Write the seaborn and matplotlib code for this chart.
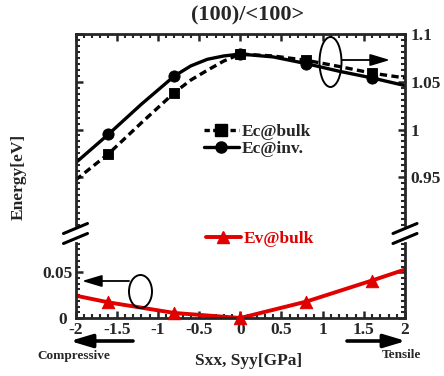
import numpy as np
import pandas as pd
import matplotlib
matplotlib.use("Agg")
import matplotlib.pyplot as plt
from matplotlib.ticker import MultipleLocator, AutoMinorLocator, FuncFormatter
from matplotlib.patches import Ellipse, FancyArrowPatch
from matplotlib.lines import Line2D
from matplotlib.transforms import ScaledTranslation
import seaborn as sns

# ---------------- data ----------------
stress_line = [-2.0, -1.6, -1.2, -0.8, -0.6, -0.4, -0.2, 0.0, 0.4, 0.8, 1.2, 1.6, 2.0]
ec_inv_line = [0.965, 0.995, 1.0265, 1.056, 1.0666, 1.0735, 1.077, 1.079, 1.076, 1.069, 1.061, 1.054, 1.046]
ec_bulk_line = [0.947, 0.9745, 1.007, 1.0386, 1.0518, 1.062, 1.0717, 1.079, 1.077, 1.0725, 1.066, 1.059, 1.054]

stress_marks = [-1.6, -0.8, 0.0, 0.8, 1.6]
ec_inv_marks = [0.995, 1.056, 1.079, 1.069, 1.054]
ec_bulk_marks = [0.9745, 1.0386, 1.079, 1.0725, 1.059]

stress_ev = [-2.0, -1.6, -0.8, 0.0, 0.8, 1.6, 2.0]
ev_bulk = [0.0245, 0.0171, 0.0055, 0.0, 0.0179, 0.041, 0.053]
stress_ev_marks = [-1.6, -0.8, 0.0, 0.8, 1.6]
ev_bulk_marks = [0.0171, 0.0055, 0.0, 0.0179, 0.041]

x_ticks = [-2, -1.5, -1, -0.5, 0, 0.5, 1, 1.5, 2]
top_yticks = [0.95, 1.0, 1.05, 1.1]
bot_yticks = [0, 0.05]

title = "(100)/<100>"
xlabel = "Sxx, Syy[GPa]"
ylabel = "Energy[eV]"
labels = ["Ec@bulk", "Ec@inv.", "Ev@bulk"]

# ---------------- style ----------------
sns.set_style("ticks")
plt.rcParams["font.family"] = ["Liberation Serif", "DejaVu Serif"]
plt.rcParams["font.weight"] = "bold"
plt.rcParams["axes.labelweight"] = "bold"

W, H = 444, 376
fig = plt.figure(figsize=(W / 100, H / 100), dpi=100)

def fx(px):
    return px / W

def fy(py):
    return 1 - py / H

L, R = 75.5, 405
ax_top = fig.add_axes([fx(L), fy(225), (R - L) / W, (225 - 34) / H])
ax_bot = fig.add_axes([fx(L), fy(318), (R - L) / W, (318 - 243) / H])

RED = "#e00000"
LW = 2.4

# top panel
sns.lineplot(x=stress_line, y=ec_bulk_line, ax=ax_top, color="black", linewidth=LW,
             linestyle=(0, (2.2, 1.3)), sort=False)
sns.lineplot(x=stress_line, y=ec_inv_line, ax=ax_top, color="black", linewidth=LW, sort=False)
sns.scatterplot(x=stress_marks, y=ec_bulk_marks, ax=ax_top, marker="s", s=60,
                color="black", edgecolor="black", zorder=5, clip_on=False)
sns.scatterplot(x=stress_marks, y=ec_inv_marks, ax=ax_top, marker="o", s=65,
                color="black", edgecolor="black", zorder=5, clip_on=False)

# bottom panel
sns.lineplot(x=stress_ev, y=ev_bulk, ax=ax_bot, color=RED, linewidth=2.8, sort=False)
sns.scatterplot(x=stress_ev_marks, y=ev_bulk_marks, ax=ax_bot, marker="^", s=80,
                color=RED, edgecolor=RED, zorder=5, clip_on=False)

for ax in (ax_top, ax_bot):
    ax.set_xlim(-2, 2)
    ax.xaxis.set_major_locator(MultipleLocator(0.5))
    ax.xaxis.set_minor_locator(MultipleLocator(0.1))
    ax.set_xlabel("")
    ax.set_ylabel("")
    for sp in ax.spines.values():
        sp.set_linewidth(2.0)
    ax.tick_params(which="major", direction="in", length=5, width=1.8, labelsize=12.5)
    ax.tick_params(which="minor", direction="in", length=3, width=1.5)

ax_top.set_ylim(0.9, 1.1)
ax_top.set_yticks(top_yticks)
ax_top.yaxis.set_minor_locator(AutoMinorLocator(8))
ax_top.spines["bottom"].set_visible(False)
ax_top.tick_params(which="both", left=True, right=True, top=True, bottom=False,
                   labelleft=False, labelright=True, labelbottom=False)
ax_top.tick_params(axis="y", pad=4)
ax_top.yaxis.set_major_formatter(FuncFormatter(lambda v, p: f"{v:g}"))

ax_bot.set_ylim(0, 0.082)
ax_bot.set_yticks(bot_yticks)
ax_bot.yaxis.set_minor_locator(MultipleLocator(0.00625))
ax_bot.spines["top"].set_visible(False)
ax_bot.tick_params(which="both", left=True, right=True, top=False, bottom=True,
                   labelleft=True, labelright=False)
ax_bot.tick_params(axis="y", pad=2)
ax_bot.tick_params(axis="x", pad=3)
ax_bot.set_xticks(x_ticks)
ax_bot.xaxis.set_major_formatter(FuncFormatter(lambda v, p: f"{v:g}"))
ax_bot.yaxis.set_major_formatter(FuncFormatter(lambda v, p: f"{v:g}"))

# nudge the "0" y label slightly left, as in the reference
fig.canvas.draw()
lab0 = ax_bot.yaxis.get_major_ticks()[0].label1
lab0.set_transform(lab0.get_transform() + ScaledTranslation(-6 / 100, 0, fig.dpi_scale_trans))

# break marks
for xb in (L, R):
    for yb in (228.5, 238.5):
        fig.add_artist(Line2D([fx(xb - 12), fx(xb + 12)], [fy(yb + 5), fy(yb - 5)],
                              color="black", lw=2.2, transform=fig.transFigure))

# legends
h_bulk = Line2D([], [], color="black", lw=LW, linestyle=(0, (1.6, 1.0)), marker="s", markersize=8)
h_inv = Line2D([], [], color="black", lw=LW, marker="o", markersize=8)
h_ev = Line2D([], [], color=RED, lw=2.8, marker="^", markersize=9)
leg1 = fig.legend([h_bulk, h_inv], labels[:2], loc="upper left",
                  bbox_to_anchor=(fx(204), fy(124)), frameon=False, fontsize=12.5,
                  handlelength=2.0, handletextpad=0.2, labelspacing=0.05,
                  borderpad=0, borderaxespad=0)
leg2 = fig.legend([h_ev], labels[2:], loc="upper left",
                  bbox_to_anchor=(fx(206), fy(231)), frameon=False, fontsize=12.5,
                  handlelength=2.0, handletextpad=0.2, borderpad=0, borderaxespad=0,
                  labelcolor=RED)

# ellipses + arrows
fig.add_artist(Ellipse((fx(330.5), fy(62)), 22 / W, 50 / H, transform=fig.transFigure,
                       fill=False, lw=1.4, edgecolor="black"))
fig.add_artist(Ellipse((fx(140.5), fy(291.5)), 23 / W, 33 / H, transform=fig.transFigure,
                       fill=False, lw=1.4, edgecolor="black"))
thin = "-|>,head_length=8,head_width=2.4"
thick = "-|>,head_length=6,head_width=1.8"
fig.add_artist(FancyArrowPatch((fx(342), fy(60)), (fx(390), fy(60)),
               transform=fig.transFigure, arrowstyle=thin,
               lw=1.3, color="black", shrinkA=0, shrinkB=0, mutation_scale=1.5))
fig.add_artist(FancyArrowPatch((fx(129), fy(281)), (fx(82), fy(281)),
               transform=fig.transFigure, arrowstyle=thin,
               lw=1.3, color="black", shrinkA=0, shrinkB=0, mutation_scale=1.5))
fig.add_artist(FancyArrowPatch((fx(133), fy(341)), (fx(70), fy(341)),
               transform=fig.transFigure, arrowstyle=thick,
               lw=2.6, color="black", shrinkA=0, shrinkB=0, mutation_scale=2.2))
fig.add_artist(FancyArrowPatch((fx(347), fy(341)), (fx(406), fy(341)),
               transform=fig.transFigure, arrowstyle=thick,
               lw=2.6, color="black", shrinkA=0, shrinkB=0, mutation_scale=2.2))

# texts
fig.text(fx(248), fy(15), title, ha="center", va="center", fontsize=16, fontweight="bold")
fig.text(fx(249), fy(361), xlabel, ha="center", va="center", fontsize=12.5, fontweight="bold")
fig.text(fx(18.5), fy(177), ylabel, ha="center", va="center", rotation=90, fontsize=12.5,
         fontweight="bold")
fig.text(fx(73.5), fy(355.5), "Compressive", ha="center", va="center", fontsize=9.5,
         fontweight="bold")
fig.text(fx(401), fy(355), "Tensile", ha="center", va="center", fontsize=9.5,
         fontweight="bold")

fig.savefig("out.png", dpi=100)
